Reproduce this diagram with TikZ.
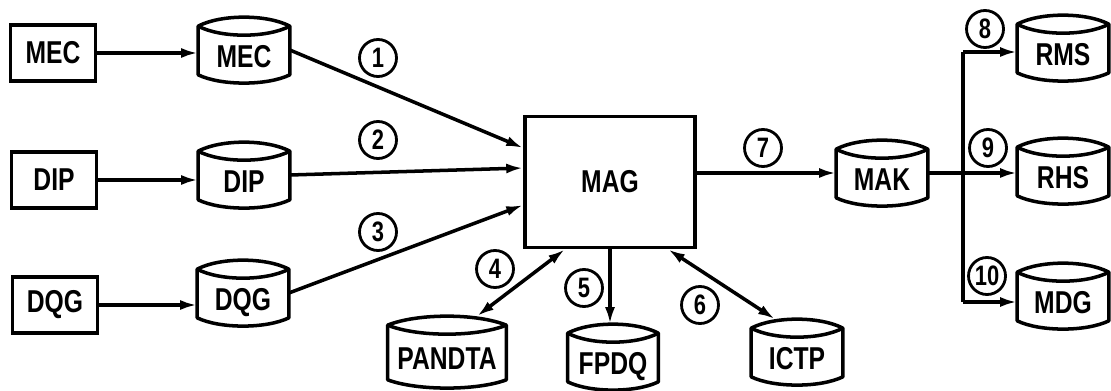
\documentclass[tikz,border=0pt]{standalone}
\usepackage{fontspec}
\setmainfont{Liberation Sans}[FakeStretch=0.78]
\usetikzlibrary{arrows.meta,calc}
\newcommand\lblfont{\fontsize{18}{20}\selectfont\bfseries}
\newcommand\numfnt{\fontsize{16}{18}\selectfont\bfseries}

\begin{document}
\begin{tikzpicture}[x=0.02cm, y=-0.02cm, >={Latex[length=0.34cm,width=0.2cm]}, font=\lblfont,
  box/.style={draw, line width=2pt, minimum width=1.7cm, minimum height=1.12cm},
  disk/.style={minimum width=1.82cm, minimum height=1.3cm, inner sep=0pt, text height=0.72cm, text depth=0pt},
  dline/.style={line width=2pt, line join=round},
  numc/.style={draw, circle, line width=1.6pt, minimum size=0.74cm, inner sep=0pt, font=\numfnt},
  flow/.style={line width=2pt}]
\useasboundingbox (0,0) rectangle (1111,391);
% sources
\node[box] (mecs) at (53,53) {MEC};
\node[box] (dips) at (54,180) {DIP};
\node[box] (dqgs) at (55,305) {DQG};
% disks
\node[disk] (mecd) at (244,50) {MEC};
\node[disk] (dipd) at (244,175) {DIP};
\node[disk] (dqgd) at (243,293) {DQG};
\node[draw, line width=2pt, minimum width=3.4cm, minimum height=2.62cm] (mag) at (610,182) {MAG};
\node[disk, minimum width=2.36cm, minimum height=1.42cm] (pandta) at (447,352) {PANDTA};
\node[disk, minimum width=1.8cm] (fpdq) at (613,357) {FPDQ};
\node[disk] (ictp) at (797,352) {ICTP};
\node[disk] (makd) at (882,173) {MAK};
\node[disk] (rmsd) at (1063,48) {RMS};
\node[disk] (rhsd) at (1063,171) {RHS};
\node[disk] (mdgd) at (1063,296) {MDG};
% disk outlines
\foreach \n in {mecd,dipd,dqgd,pandta,fpdq,ictp,makd,rmsd,rhsd,mdgd}{
  \path (\n.north west) coordinate (nw) (\n.north east) coordinate (ne)
        (\n.south west) coordinate (sw) (\n.south east) coordinate (se);
  \draw[dline] ($(nw)+(0,9)$) -- ($(sw)+(0,-8)$)
    .. controls ($(sw)!.25!(se)+(0,3)$) and ($(sw)!.75!(se)+(0,3)$) .. ($(se)+(0,-8)$)
    -- ($(ne)+(0,9)$)
    .. controls ($(nw)!.75!(ne)+(0,-3)$) and ($(nw)!.25!(ne)+(0,-3)$) .. cycle;
  \draw[dline] ($(nw)+(0,9)$)
    .. controls ($(nw)!.25!(ne)+(0,21)$) and ($(nw)!.75!(ne)+(0,21)$) .. ($(ne)+(0,9)$);
}
% flows
\draw[flow,->] (mecs.east) -- (mecs.east -| mecd.west);
\draw[flow,->] (dips.east) -- (dips.east -| dipd.west);
\draw[flow,->] (dqgs.east) -- (dqgs.east -| dqgd.west);
\draw[flow,->] (mecd.east) -- ([yshift=0.68cm]mag.west);
\draw[flow,->] (dipd.east) -- ([yshift=0.28cm]mag.west);
\draw[flow,->] (dqgd.east) -- ([yshift=-0.46cm]mag.west);
\draw[flow,<->] ([xshift=0.6cm]pandta.north) -- ([xshift=-0.9cm]mag.south);
\draw[flow,->] (mag.south) -- (mag.south |- fpdq.north);
\draw[flow,<->] ([xshift=1.16cm]mag.south) -- ([xshift=-0.44cm]ictp.north);
\draw[flow,->] ([yshift=0.18cm]mag.east) -- (makd.west);
\draw[flow,->] (makd.east) -- (makd.east -| rhsd.west);
\coordinate (bt) at (963,52);
\coordinate (bb) at (963,302);
\draw[flow] (bt) -- (bb);
\draw[flow,->] (bt) -- (bt -| rmsd.west);
\draw[flow,->] (bb) -- (bb -| mdgd.west);
% numbers
\node[numc] (n1) at (378,58) {1};
\node[numc] (n2) at (378,140) {2};
\node[numc] (n3) at (378,232) {3};
\node[numc] (n4) at (495,269) {4};
\node[numc] (n5) at (584,288) {5};
\node[numc] (n6) at (700,305) {6};
\node[numc] (n7) at (763,148) {7};
\node[numc] (n8) at (985,29) {8};
\node[numc] (n9) at (988,148) {9};
\node[numc] (n10) at (987,276) {10};
\end{tikzpicture}
\end{document}
